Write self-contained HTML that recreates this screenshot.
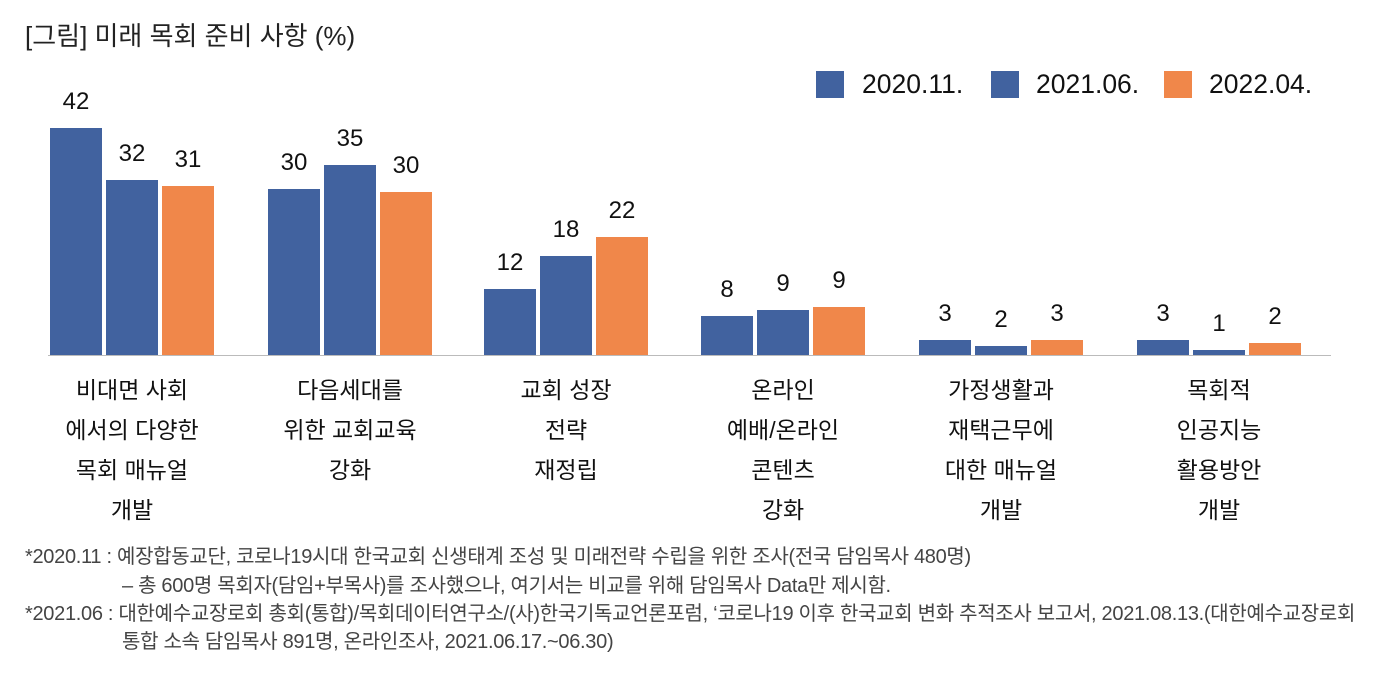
<!DOCTYPE html>
<html><head><meta charset="utf-8"><style>
body{margin:0;width:1378px;height:674px;background:#fff;position:relative;overflow:hidden;font-family:"Liberation Sans","Noto Sans CJK KR",sans-serif;color:#111}
.a{position:absolute}
.b{position:absolute;width:52px}
.c1{background:#41629f}.c3{background:#f0874a}
.v{position:absolute;width:80px;text-align:center;font-size:24px;line-height:24px}
.cat{position:absolute;width:218px;text-align:center;font-size:23px;line-height:40px;top:370px}
.fn{position:absolute;font-size:20px;color:#444;white-space:nowrap;transform:scaleX(1.0);transform-origin:left top;letter-spacing:-0.3px;line-height:22px}
</style></head><body>
<div class="a" style="left:25px;top:16px;font-size:26px;color:#222">[그림] 미래 목회 준비 사항 (%)</div>
<div class="a c1" style="left:816px;top:71px;width:28px;height:27px"></div>
<div class="a" style="left:862px;top:69px;font-size:26.5px">2020.11.</div>
<div class="a c1" style="left:991px;top:71px;width:28px;height:27px"></div>
<div class="a" style="left:1036px;top:69px;font-size:26.5px">2021.06.</div>
<div class="a c3" style="left:1164px;top:71px;width:28px;height:27px"></div>
<div class="a" style="left:1209px;top:69px;font-size:26.5px">2022.04.</div>

<div class="a" style="left:48px;top:355px;width:1283px;height:1px;background:#bbb"></div>

<div class="b c1" style="left:50px;top:128px;height:227px"></div>
<div class="b c1" style="left:106px;top:180px;height:175px"></div>
<div class="b c3" style="left:162px;top:186px;height:169px"></div>
<div class="v" style="left:36px;top:90px">42</div>
<div class="v" style="left:92px;top:142px">32</div>
<div class="v" style="left:148px;top:148px">31</div>

<div class="b c1" style="left:268px;top:189px;height:166px"></div>
<div class="b c1" style="left:324px;top:165px;height:190px"></div>
<div class="b c3" style="left:380px;top:192px;height:163px"></div>
<div class="v" style="left:254px;top:151px">30</div>
<div class="v" style="left:310px;top:127px">35</div>
<div class="v" style="left:366px;top:154px">30</div>

<div class="b c1" style="left:484px;top:289px;height:66px"></div>
<div class="b c1" style="left:540px;top:256px;height:99px"></div>
<div class="b c3" style="left:596px;top:237px;height:118px"></div>
<div class="v" style="left:470px;top:251px">12</div>
<div class="v" style="left:526px;top:218px">18</div>
<div class="v" style="left:582px;top:199px">22</div>

<div class="b c1" style="left:701px;top:316px;height:39px"></div>
<div class="b c1" style="left:757px;top:310px;height:45px"></div>
<div class="b c3" style="left:813px;top:307px;height:48px"></div>
<div class="v" style="left:687px;top:278px">8</div>
<div class="v" style="left:743px;top:272px">9</div>
<div class="v" style="left:799px;top:269px">9</div>

<div class="b c1" style="left:919px;top:340px;height:15px"></div>
<div class="b c1" style="left:975px;top:346px;height:9px"></div>
<div class="b c3" style="left:1031px;top:340px;height:15px"></div>
<div class="v" style="left:905px;top:302px">3</div>
<div class="v" style="left:961px;top:308px">2</div>
<div class="v" style="left:1017px;top:302px">3</div>

<div class="b c1" style="left:1137px;top:340px;height:15px"></div>
<div class="b c1" style="left:1193px;top:350px;height:5px"></div>
<div class="b c3" style="left:1249px;top:343px;height:12px"></div>
<div class="v" style="left:1123px;top:302px">3</div>
<div class="v" style="left:1179px;top:312px">1</div>
<div class="v" style="left:1235px;top:305px">2</div>

<div class="cat" style="left:23px">비대면 사회<br>에서의 다양한<br>목회 매뉴얼<br>개발</div>
<div class="cat" style="left:241px">다음세대를<br>위한 교회교육<br>강화</div>
<div class="cat" style="left:457px">교회 성장<br>전략<br>재정립</div>
<div class="cat" style="left:674px">온라인<br>예배/온라인<br>콘텐츠<br>강화</div>
<div class="cat" style="left:892px">가정생활과<br>재택근무에<br>대한 매뉴얼<br>개발</div>
<div class="cat" style="left:1110px">목회적<br>인공지능<br>활용방안<br>개발</div>

<div class="fn" style="left:25px;top:546px">*2020.11 : 예장합동교단, 코로나19시대 한국교회 신생태계 조성 및 미래전략 수립을 위한 조사(전국 담임목사 480명)</div>
<div class="fn" style="left:122px;top:575px">– 총 600명 목회자(담임+부목사)를 조사했으나, 여기서는 비교를 위해 담임목사 Data만 제시함.</div>
<div class="fn" style="left:25px;top:603px">*2021.06 : 대한예수교장로회 총회(통합)/목회데이터연구소/(사)한국기독교언론포럼, ‘코로나19 이후 한국교회 변화 추적조사 보고서, 2021.08.13.(대한예수교장로회</div>
<div class="fn" style="left:122px;top:631px">통합 소속 담임목사 891명, 온라인조사, 2021.06.17.~06.30)</div>
</body></html>
